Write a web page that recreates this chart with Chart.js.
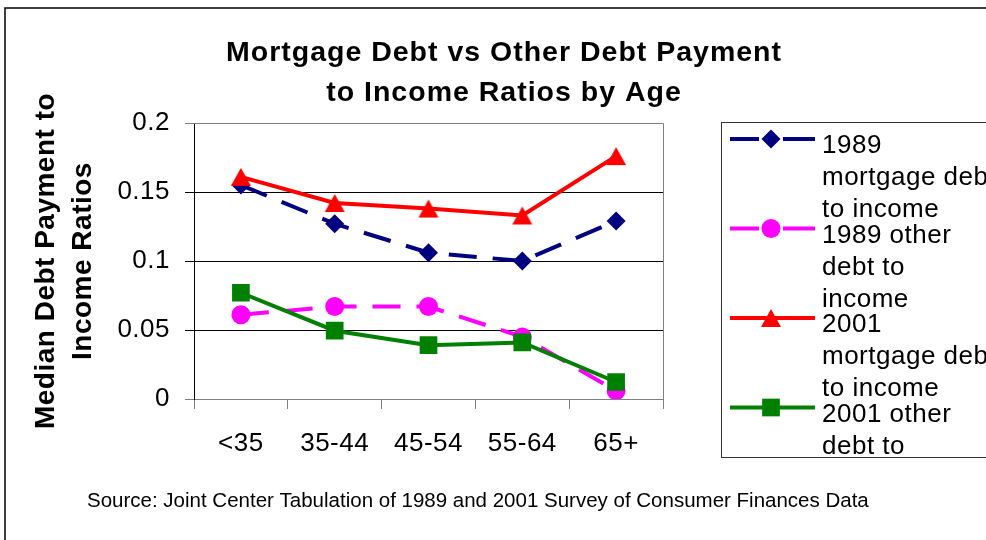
<!DOCTYPE html>
<html lang="en">
<head>
<meta charset="UTF-8">
<title>Mortgage Debt vs Other Debt Payment to Income Ratios by Age</title>
<script src="https://cdn.jsdelivr.net/npm/chart.js"></script>
<style>
  html, body { margin: 0; padding: 0; background: #fff; }
  #wrap { width: 986px; height: 540px; }
</style>
</head>
<body>
<div id="wrap"><canvas id="debtChart" width="986" height="540"></canvas></div>
<script>
// data
const ageGroups = ['<35', '35-44', '45-54', '55-64', '65+'];
const mortgage1989 = [0.155, 0.127, 0.106, 0.100, 0.129];
const other1989 = [0.061, 0.067, 0.067, 0.045, 0.006];
const mortgage2001 = [0.161, 0.142, 0.138, 0.133, 0.176];
const other2001 = [0.077, 0.0495, 0.039, 0.041, 0.0123];
const yTicks = [0, 0.05, 0.1, 0.15, 0.2];
const seriesNames = [
    ['1989', 'mortgage debt', 'to income'],
    ['1989 other', 'debt to', 'income'],
    ['2001', 'mortgage debt', 'to income'],
    ['2001 other', 'debt to', 'income']
];
const chartTitle = ['Mortgage Debt vs Other Debt Payment', 'to Income Ratios by Age'];
const yTitle = ['Median Debt Payment to', 'Income Ratios'];
const sourceNote = 'Source: Joint Center Tabulation of 1989 and 2001 Survey of Consumer Finances Data';

const FONT = '"Liberation Sans", Arial, sans-serif';

// excel style triangle, centred in its box
function makeTriangle(color) {
    const c = document.createElement('canvas');
    c.width = 22; c.height = 20;
    const g = c.getContext('2d');
    g.fillStyle = color;
    g.beginPath();
    g.moveTo(11, 1); g.lineTo(21, 19); g.lineTo(1, 19);
    g.closePath();
    g.fill();
    return c;
}
const redTriangle = makeTriangle('#ff0000');

function drawMarker(ctx, style, color, x, y, r) {
    ctx.fillStyle = color;
    ctx.beginPath();
    if (style === 'rectRot') {
        ctx.moveTo(x - r, y); ctx.lineTo(x, y - r); ctx.lineTo(x + r, y); ctx.lineTo(x, y + r);
        ctx.closePath(); ctx.fill();
    } else if (style === 'circle') {
        ctx.arc(x, y, r, 0, Math.PI * 2); ctx.fill();
    } else if (style === 'rect') {
        const s = r * Math.SQRT1_2;
        ctx.fillRect(x - s, y - s, s * 2, s * 2);
    } else {
        ctx.drawImage(style, x - style.width / 2, y - style.height / 2);
    }
}

const decor = {
    id: 'decor',
    beforeDraw(chart) {
        const ctx = chart.ctx;
        ctx.save();
        ctx.fillStyle = '#fff';
        ctx.fillRect(0, 0, chart.width, chart.height);
        ctx.restore();
        ctx.letterSpacing = '0.5px';
    },
    beforeDatasetsDraw(chart) {
        const { ctx, chartArea: a } = chart;
        ctx.save();
        ctx.strokeStyle = '#808080';
        ctx.lineWidth = 1;
        ctx.beginPath();
        ctx.moveTo(a.left, a.top + 0.5);
        ctx.lineTo(a.right + 0.5, a.top + 0.5);
        ctx.lineTo(a.right + 0.5, a.bottom);
        ctx.stroke();
        ctx.restore();
    },
    afterDraw(chart) {
        const ctx = chart.ctx;
        ctx.save();

        // outer frame
        ctx.strokeStyle = '#000';
        ctx.lineWidth = 1.5;
        ctx.strokeRect(5, 8, 1100, 700);

        // title
        ctx.fillStyle = '#000';
        ctx.textAlign = 'center';
        ctx.textBaseline = 'alphabetic';
        ctx.font = 'bold 28.5px ' + FONT;
        ctx.letterSpacing = '1px';
        ctx.fillText(chartTitle[0], 504, 61);
        ctx.fillText(chartTitle[1], 504, 101);

        // source
        ctx.textAlign = 'left';
        ctx.font = '20.5px ' + FONT;
        ctx.letterSpacing = '0px';
        ctx.fillText(sourceNote, 87, 507);

        // legend
        const lx = 721, ly = 122, lb = 457;
        ctx.strokeStyle = '#333';
        ctx.lineWidth = 1;
        ctx.strokeRect(lx + 0.5, ly + 0.5, 400, lb - ly);
        ctx.beginPath();
        ctx.rect(lx + 1, ly + 1, 400, lb - ly - 1);
        ctx.clip();
        ctx.font = '26px ' + FONT;
        ctx.letterSpacing = '0.5px';
        chart.data.datasets.forEach((ds, i) => {
            const y = 139 + i * 89.5;
            ctx.strokeStyle = ds.borderColor;
            ctx.lineWidth = 4;
            ctx.beginPath();
            if (ds.borderDash) {
                ctx.moveTo(730, y); ctx.lineTo(759, y);
                ctx.moveTo(783, y); ctx.lineTo(815, y);
            } else {
                ctx.moveTo(730, y); ctx.lineTo(815, y);
            }
            ctx.stroke();
            drawMarker(ctx, ds.pointStyle, ds.pointBackgroundColor, 771, y, ds.pointRadius);
            ctx.fillStyle = '#000';
            seriesNames[i].forEach((line, k) => ctx.fillText(line, 822, y + 14 + k * 32));
        });
        ctx.restore();
    }
};

new Chart(document.getElementById('debtChart'), {
    type: 'line',
    data: {
        labels: ageGroups,
        datasets: [
            {
                label: seriesNames[0].join(' '),
                data: mortgage1989,
                borderColor: '#000080',
                borderWidth: 4,
                borderDash: [28, 16],
                pointStyle: 'rectRot',
                pointRadius: 9.5,
                pointBackgroundColor: '#000080',
                pointBorderWidth: 0,
                order: 4
            },
            {
                label: seriesNames[1].join(' '),
                data: other1989,
                borderColor: '#ff00ff',
                borderWidth: 4,
                borderDash: [28, 16],
                pointStyle: 'circle',
                pointRadius: 9.5,
                pointBackgroundColor: '#ff00ff',
                pointBorderWidth: 0,
                order: 3
            },
            {
                label: seriesNames[2].join(' '),
                data: mortgage2001,
                borderColor: '#ff0000',
                borderWidth: 4,
                pointStyle: redTriangle,
                pointRadius: 10,
                pointBackgroundColor: '#ff0000',
                pointBorderWidth: 0,
                order: 2
            },
            {
                label: seriesNames[3].join(' '),
                data: other2001,
                borderColor: '#008000',
                borderWidth: 4,
                pointStyle: 'rect',
                pointRadius: 12.5,
                pointBackgroundColor: '#008000',
                pointBorderWidth: 0,
                order: 1
            }
        ]
    },
    options: {
        responsive: false,
        animation: false,
        devicePixelRatio: 1,
        layout: { padding: { top: 123, right: 323, bottom: 81, left: 0 } },
        plugins: {
            legend: { display: false },
            title: { display: false },
            tooltip: { enabled: false }
        },
        scales: {
            x: {
                offset: true,
                afterFit(scale) { scale.height = 60; },
                grid: {
                    display: true,
                    offset: true,
                    drawOnChartArea: false,
                    drawTicks: true,
                    tickLength: 10,
                    color: '#808080'
                },
                border: { display: true, color: '#808080', width: 1 },
                ticks: {
                    color: '#000',
                    font: { family: FONT, size: 26 },
                    padding: 19,
                    maxRotation: 0,
                    autoSkip: false
                }
            },
            y: {
                min: 0,
                max: 0.2,
                afterFit(scale) { scale.width = 194; },
                afterBuildTicks(scale) { scale.ticks = yTicks.map(v => ({ value: v })); },
                grid: {
                    color: c => (c.tick && (c.tick.value === 0 || c.tick.value === 0.2)) ? '#808080' : '#000',
                    tickLength: 9
                },
                border: { display: true, color: '#000', width: 1 },
                ticks: {
                    color: '#000',
                    font: { family: FONT, size: 26 },
                    padding: 15,
                    callback: v => String(v)
                },
                title: {
                    display: true,
                    text: yTitle,
                    color: '#000',
                    font: { family: FONT, size: 28, weight: 'bold', lineHeight: 1.35 },
                    padding: { top: 27, bottom: 0 }
                }
            }
        }
    },
    plugins: [decor]
});
</script>
</body>
</html>
